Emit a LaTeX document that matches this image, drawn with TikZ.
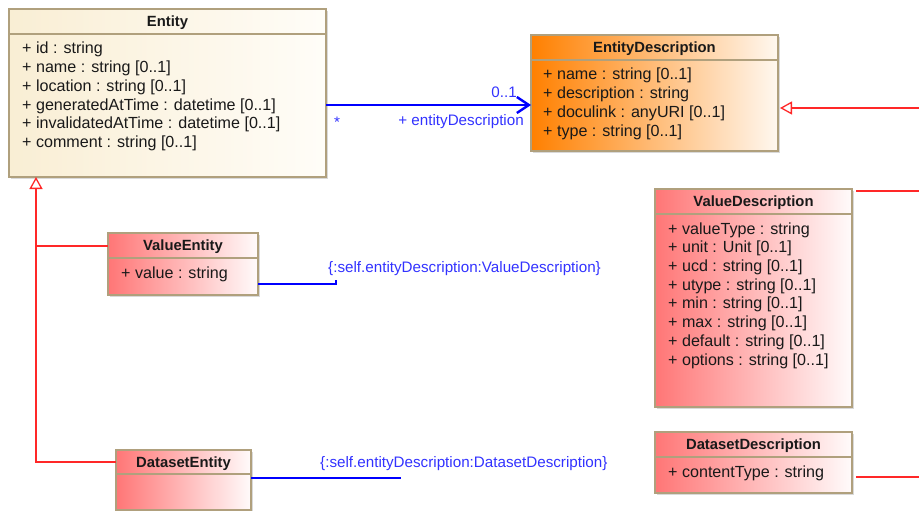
\documentclass[tikz,border=0pt]{standalone}
\usepackage{fontspec}
\setmainfont{Liberation Sans}
\usetikzlibrary{arrows.meta,shadows}

\definecolor{umlborder}{RGB}{176,160,125}
\definecolor{umltext}{RGB}{25,25,25}
\definecolor{entleft}{RGB}{249,238,212}
\definecolor{entright}{RGB}{255,253,248}
\definecolor{orangeleft}{RGB}{255,128,0}
\definecolor{orangeright}{RGB}{255,248,240}
\definecolor{redleft}{RGB}{255,118,118}
\definecolor{redright}{RGB}{255,251,251}
\definecolor{assocblue}{RGB}{0,0,255}
\definecolor{assoctext}{RGB}{50,50,255}
\definecolor{genred}{RGB}{255,40,40}

\tikzset{
  classbox/.style={draw=umlborder, line width=1.4pt, inner sep=0pt, outer sep=0pt,
    anchor=north west,
    drop shadow={shadow xshift=2pt, shadow yshift=-2pt, fill=black, opacity=0.15}},
  entfill/.style={left color=entleft, right color=entright},
  orangefill/.style={left color=orangeleft, right color=orangeright},
  redfill/.style={left color=redleft, right color=redright},
  headsep/.style={draw=umlborder, line width=1.2pt},
  classtitle/.style={font=\bfseries\fontsize{14.8}{16}\selectfont, inner sep=0pt,
    anchor=base, text=umltext},
  attr/.style={font=\fontsize{16.1}{18}\selectfont, inner sep=0pt,
    anchor=base west, text=umltext},
  assoclabel/.style={font=\fontsize{15.2}{16}\selectfont, inner sep=0pt, text=assoctext},
  assoc/.style={draw=assocblue, line width=2.4pt},
  gen/.style={draw=genred, line width=1.3pt},
  gentip/.style={-{Triangle[open, length=12pt, width=13pt, fill=white]}},
}

% header rule and title of a class box
\newcommand\umlhead[3]{%
  \draw[headsep] ([yshift=-#2pt]#1.north west) -- ([yshift=-#2pt]#1.north east);
  \node[classtitle] (#1-title) at ([yshift=-17.5pt]#1.north) {#3};}
% attribute lines of a class box
\newcommand\umlattrs[3]{%
  \foreach \t [count=\i] in {#3}
    \node[attr] (#1-a\i) at ([xshift=#2pt, yshift={-(45+18.72*(\i-1))*1pt}]#1.north west) {\t};}

\begin{document}
\begin{tikzpicture}[x=1pt, y=-1pt]
\useasboundingbox (0,0) rectangle (919,511);

% classes
\node[classbox, entfill, minimum width=317pt, minimum height=168pt] (entity) at (9,9) {};
\umlhead{entity}{25}{Entity}
\umlattrs{entity}{13}{{+ id : string},{+ name : string [0..1]},{+ location : string [0..1]},
  {+ generatedAtTime : datetime [0..1]},{+ invalidatedAtTime : datetime [0..1]},
  {+ comment : string [0..1]}}

\node[classbox, orangefill, minimum width=247pt, minimum height=116pt] (edesc) at (531,35) {};
\umlhead{edesc}{25}{EntityDescription}
\umlattrs{edesc}{12}{{+ name : string [0..1]},{+ description : string},
  {+ doculink : anyURI [0..1]},{+ type : string [0..1]}}

\node[classbox, redfill, minimum width=197pt, minimum height=218pt] (vdesc) at (655,189) {};
\umlhead{vdesc}{25}{ValueDescription}
\umlattrs{vdesc}{13}{{+ valueType : string},{+ unit : Unit [0..1]},{+ ucd : string [0..1]},
  {+ utype : string [0..1]},{+ min : string [0..1]},{+ max : string [0..1]},
  {+ default : string [0..1]},{+ options : string [0..1]}}

\node[classbox, redfill, minimum width=150pt, minimum height=62pt] (vent) at (108,233) {};
\umlhead{vent}{25}{ValueEntity}
\umlattrs{vent}{13}{{+ value : string}}

\node[classbox, redfill, minimum width=135pt, minimum height=60pt] (dent) at (116,450) {};
\umlhead{dent}{24}{DatasetEntity}

\node[classbox, redfill, minimum width=197pt, minimum height=61pt] (ddesc) at (655,432) {};
\umlhead{ddesc}{25}{DatasetDescription}
\umlattrs{ddesc}{13}{{+ contentType : string}}

% association Entity -> EntityDescription
\draw[assoc, -{Straight Barb[length=12pt, width=16pt]}]
  ([yshift=-96pt]entity.north east) -- ([yshift=-70pt]edesc.north west);
\node[assoclabel, anchor=base east] (mult-target) at (517,98) {0..1};
\node[assoclabel, anchor=base west] (mult-source) at (334,127) {*};
\node[assoclabel, anchor=base east] (role) at (524,125.5) {+ entityDescription};

% constraint stubs
\coordinate (vent-end) at (336,280);
\draw[assoc] ([yshift=-51pt]vent.north east) -| (vent-end);
\node[assoclabel, anchor=base west] (vent-rule) at (328,272)
  {\{:self.entityDescription:ValueDescription\}};
\coordinate (dent-end) at (401,478);
\draw[assoc] ([yshift=-28pt]dent.north east) -- (dent-end);
\node[assoclabel, anchor=base west] (dent-rule) at (320,467.5)
  {\{:self.entityDescription:DatasetDescription\}};

% generalizations towards Entity
\coordinate (genbase) at ([xshift=27pt]entity.south west);
\coordinate (vent-gen) at ([yshift=-13pt]vent.north west);
\draw[gen, gentip] ([yshift=-12pt]dent.north west) -| (genbase);
\draw[gen] (vent-gen) -- (vent-gen -| genbase);

% generalizations leaving to the right
\coordinate (edesc-gen) at ([xshift=2pt, yshift=-73pt]edesc.north east);
\coordinate (edesc-far) at (919,108);
\draw[gen, gentip] (edesc-far) -- (edesc-gen);
\coordinate (vdesc-gen) at ([xshift=4pt, yshift=-2pt]vdesc.north east);
\draw[gen] (vdesc-gen) -- (vdesc-gen -| edesc-far);
\coordinate (ddesc-gen) at ([xshift=4pt, yshift=-45pt]ddesc.north east);
\draw[gen] (ddesc-gen) -- (ddesc-gen -| edesc-far);
\end{tikzpicture}
\end{document}
